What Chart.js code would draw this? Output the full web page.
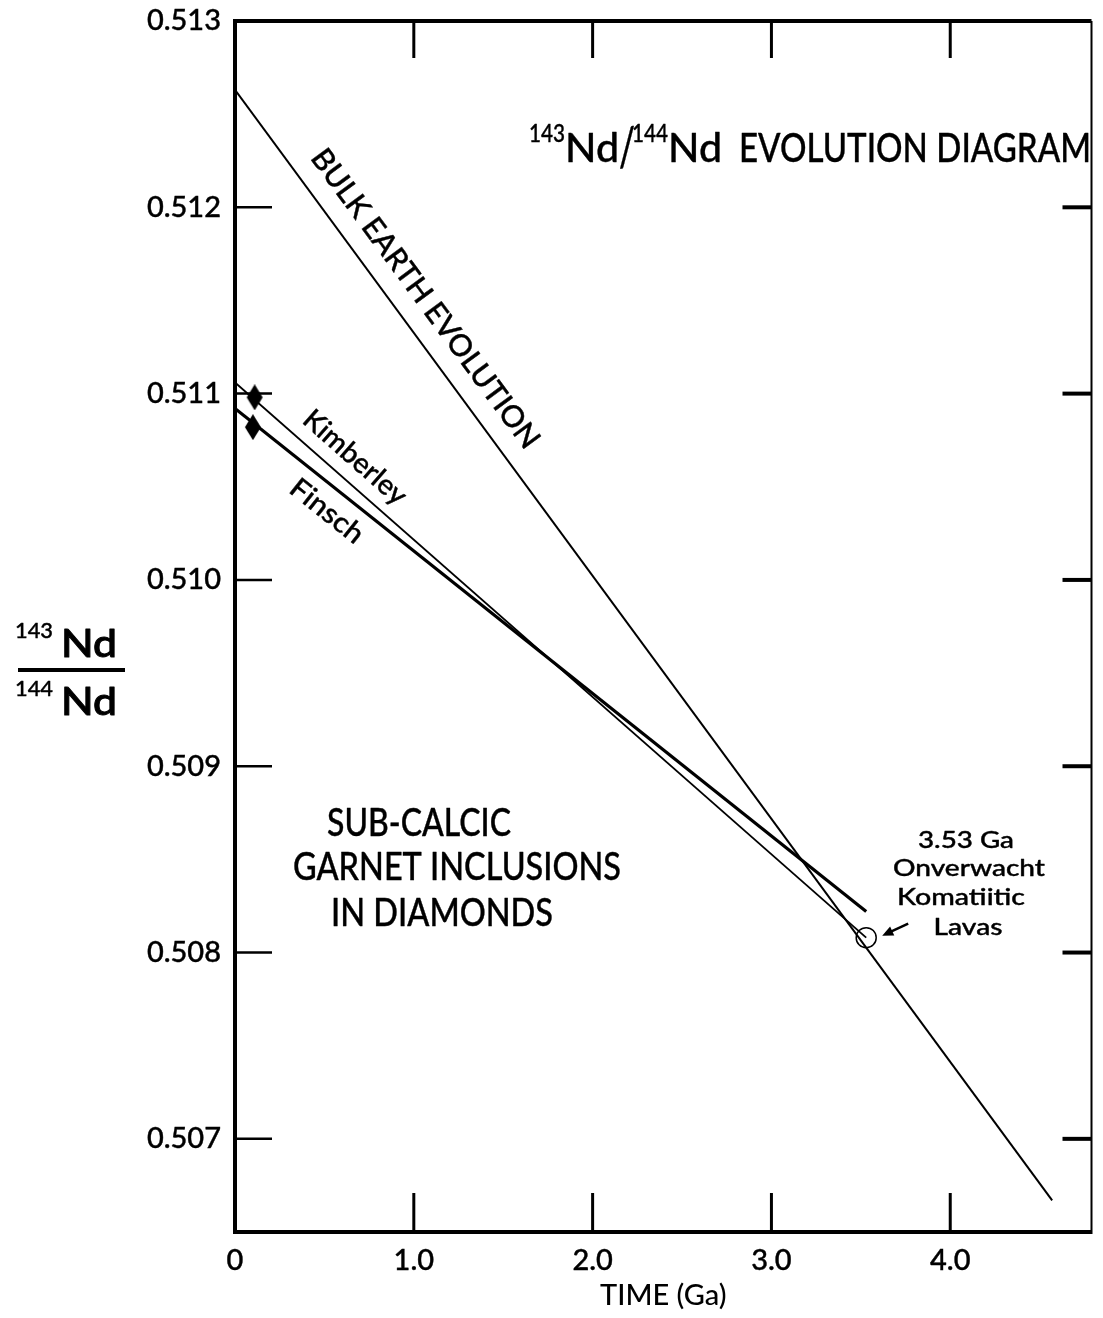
<!DOCTYPE html>
<html><head><meta charset="utf-8">
<script src="https://cdn.jsdelivr.net/npm/chart.js@4"></script>
<style>html,body{margin:0;padding:0;background:#fff;} canvas{display:block;}</style>
</head><body>
<canvas id="c" width="1103" height="1318"></canvas>
<script>
// ---- data ----
const xTicks = [0, 1, 2, 3, 4];
const xTickLabels = ['0', '1.0', '2.0', '3.0', '4.0'];
const yTicks = [0.507, 0.508, 0.509, 0.510, 0.511, 0.512, 0.513];
const yTickLabels = ['0.507', '0.508', '0.509', '0.510', '0.511', '0.512', '0.513'];
const bulkEarthTime = [0, 4.57];
const bulkEarthNd = [0.51263, 0.50667];
const kimberleyTime = [0, 3.53];
const kimberleyNd = [0.51106, 0.50808];
const finschTime = [0, 3.53];
const finschNd = [0.51092, 0.50822];
const garnetTime = [0.11, 0.10];
const garnetNd = [0.51098, 0.51082];
const onverwachtTime = [3.53];
const onverwachtNd = [0.50808];

const FONT = 'Lato';
const W = '500';
const STROKE = 0.4;
const pts = (xs, ys) => xs.map((x, i) => ({x: x, y: ys[i]}));

// diamond marker (taller than wide)
const diamond = document.createElement('canvas');
diamond.width = 18; diamond.height = 26;
(function(){ const d = diamond.getContext('2d'); d.fillStyle = '#000'; d.beginPath();
  d.moveTo(9, 0); d.lineTo(17, 13); d.lineTo(9, 26); d.lineTo(1, 13); d.closePath(); d.fill(); })();

function fitText(ctx, text, x, y, size, width, align, angle, weight, stroke) {
  ctx.save();
  ctx.font = (weight || W) + ' ' + size + 'px ' + FONT;
  const w = ctx.measureText(text).width;
  const sx = width ? width / w : 1;
  ctx.translate(x, y);
  if (angle) ctx.rotate(angle);
  ctx.scale(sx, 1);
  ctx.textAlign = align || 'left';
  ctx.textBaseline = 'alphabetic';
  ctx.fillStyle = '#000';
  ctx.strokeStyle = '#000';
  ctx.lineWidth = stroke === undefined ? STROKE : stroke;
  ctx.lineJoin = 'round';
  if (ctx.lineWidth > 0) ctx.strokeText(text, 0, 0);
  ctx.fillText(text, 0, 0);
  ctx.restore();
}

const decor = {
  id: 'decor',
  afterDraw(chart) {
    const ctx = chart.ctx, xs = chart.scales.x, ys = chart.scales.y, a = chart.chartArea;
    const X = v => xs.getPixelForValue(v), Y = v => ys.getPixelForValue(v);
    ctx.save();
    ctx.strokeStyle = '#000'; ctx.lineCap = 'butt';
    // top and right frame
    ctx.lineWidth = 4; ctx.beginPath(); ctx.moveTo(a.left - 2, a.top); ctx.lineTo(a.right, a.top); ctx.stroke();
    ctx.lineWidth = 2; ctx.beginPath(); ctx.moveTo(a.right, a.top); ctx.lineTo(a.right, a.bottom + 2); ctx.stroke();
    // inward ticks
    ctx.lineWidth = 3;
    xTicks.forEach(v => { if (v === 0) return; const px = X(v);
      ctx.beginPath(); ctx.moveTo(px, a.bottom); ctx.lineTo(px, a.bottom - 39); ctx.stroke();
      ctx.beginPath(); ctx.moveTo(px, a.top); ctx.lineTo(px, a.top + 37); ctx.stroke(); });
    yTicks.forEach(v => { if (v >= 0.513) return; const py = Y(v);
      ctx.lineWidth = 2.5; ctx.beginPath(); ctx.moveTo(a.left, py); ctx.lineTo(a.left + 37, py); ctx.stroke();
      ctx.lineWidth = 4; ctx.beginPath(); ctx.moveTo(a.right, py); ctx.lineTo(a.right - 29, py); ctx.stroke(); });

    // arrow to the Onverwacht point
    const cx = X(onverwachtTime[0]), cy = Y(onverwachtNd[0]);
    const tx = cx + 42, ty = cy - 14, hx = cx + 16, hy = cy - 2;
    const ang = Math.atan2(hy - ty, hx - tx);
    ctx.lineWidth = 2.5; ctx.beginPath(); ctx.moveTo(tx, ty); ctx.lineTo(hx - 6 * Math.cos(ang), hy - 6 * Math.sin(ang)); ctx.stroke();
    ctx.fillStyle = '#000'; ctx.beginPath();
    ctx.moveTo(hx, hy);
    ctx.lineTo(hx - 11 * Math.cos(ang) + 5 * Math.sin(ang), hy - 11 * Math.sin(ang) - 5 * Math.cos(ang));
    ctx.lineTo(hx - 11 * Math.cos(ang) - 5 * Math.sin(ang), hy - 11 * Math.sin(ang) + 5 * Math.cos(ang));
    ctx.closePath(); ctx.fill();

    // title
    fitText(ctx, '143', 529, 142, 24, 36, 'left');
    fitText(ctx, 'Nd', 565, 162, 40, 54, 'left');
    fitText(ctx, '/', 619, 166, 54, 16, 'left');
    fitText(ctx, '144', 632, 142, 24, 36, 'left');
    fitText(ctx, 'Nd', 668, 162, 40, 54, 'left');
    fitText(ctx, 'EVOLUTION DIAGRAM', 739, 162, 40, 352, 'left');

    // y-axis fraction title
    fitText(ctx, '143', 15, 638, 21, 38, 'left');
    fitText(ctx, 'Nd', 61, 657, 38, 56, 'left', 0, '500', 1.0);
    ctx.lineWidth = 4; ctx.beginPath(); ctx.moveTo(18, 670); ctx.lineTo(125, 670); ctx.stroke();
    fitText(ctx, '144', 15, 696, 21, 38, 'left');
    fitText(ctx, 'Nd', 61, 715, 38, 56, 'left', 0, '500', 1.0);

    // labels along lines
    const angOf = (tx, ty) => Math.atan2(Y(ty[1]) - Y(ty[0]), X(tx[1]) - X(tx[0]));
    fitText(ctx, 'BULK EARTH EVOLUTION', X(1.003) + 3, Y(0.51150) + 4, 30, 364, 'center', angOf(bulkEarthTime, bulkEarthNd));
    fitText(ctx, 'Kimberley', X(0.626) + 2, Y(0.510642) + 4, 28, 128, 'center', angOf(kimberleyTime, kimberleyNd));
    fitText(ctx, 'Finsch', X(0.482), Y(0.510358) + 5, 28, 86, 'center', angOf(finschTime, finschNd));

    // garnet inclusion text block
    fitText(ctx, 'SUB-CALCIC', 419, 836, 38, 184, 'center');
    fitText(ctx, 'GARNET INCLUSIONS', 457, 880, 38, 328, 'center');
    fitText(ctx, 'IN DIAMONDS', 442, 926, 38, 222, 'center');

    // Onverwacht block
    fitText(ctx, '3.53 Ga', 966, 848, 23, 96, 'center');
    fitText(ctx, 'Onverwacht', 969, 876, 23, 152, 'center');
    fitText(ctx, 'Komatiitic', 961, 905, 23, 128, 'center');
    fitText(ctx, 'Lavas', 968, 935, 23, 69, 'center');
    ctx.restore();
  }
};

new Chart(document.getElementById('c'), {
  type: 'scatter',
  data: {
    datasets: [
      {label: 'Bulk Earth', data: pts(bulkEarthTime, bulkEarthNd), showLine: true, borderColor: '#000', borderWidth: 2, pointRadius: 0},
      {label: 'Kimberley', data: pts(kimberleyTime, kimberleyNd), showLine: true, borderColor: '#000', borderWidth: 1.8, pointRadius: 0},
      {label: 'Finsch', data: pts(finschTime, finschNd), showLine: true, borderColor: '#000', borderWidth: 3.2, pointRadius: 0},
      {label: 'Garnets', data: pts(garnetTime, garnetNd), showLine: false, pointStyle: diamond, pointRadius: 9},
      {label: 'Onverwacht', data: pts(onverwachtTime, onverwachtNd), showLine: false, pointStyle: 'circle', pointRadius: 10, borderColor: '#000', borderWidth: 1.5, backgroundColor: 'rgba(0,0,0,0)'}
    ]
  },
  options: {
    responsive: false, animation: false, devicePixelRatio: 1,
    layout: {padding: {left: 0, right: 4, top: 21, bottom: 0}},
    plugins: {legend: {display: false}, tooltip: {enabled: false}},
    scales: {
      x: {
        type: 'linear', min: 0, max: 4.79,
        afterBuildTicks: s => { s.ticks = xTicks.map(v => ({value: v})); },
        afterFit: s => { s.height = 86; s.paddingLeft = 0; s.paddingRight = 0; },
        grid: {display: false, drawTicks: false},
        border: {display: true, width: 4, color: '#000'},
        ticks: {callback: (v, i) => xTickLabels[i], font: {family: FONT, size: 29, weight: W}, color: '#000', textStrokeColor: '#000', textStrokeWidth: STROKE, padding: 11, maxRotation: 0, autoSkip: false},
        title: {display: true, text: 'TIME (Ga)', font: {family: FONT, size: 29, weight: W}, color: '#000', padding: {top: 0, bottom: 5}}
      },
      y: {
        type: 'linear', min: 0.5065, max: 0.513,
        afterBuildTicks: s => { s.ticks = yTicks.map(v => ({value: v})); },
        afterFit: s => { s.width = 235; s.paddingTop = 0; s.paddingBottom = 0; },
        grid: {display: false, drawTicks: false},
        border: {display: true, width: 4, color: '#000'},
        ticks: {callback: (v, i) => yTickLabels[i], font: {family: FONT, size: 29, weight: W}, color: '#000', textStrokeColor: '#000', textStrokeWidth: STROKE, padding: 14, autoSkip: false}
      }
    }
  },
  plugins: [decor]
});
</script>
</body></html>
